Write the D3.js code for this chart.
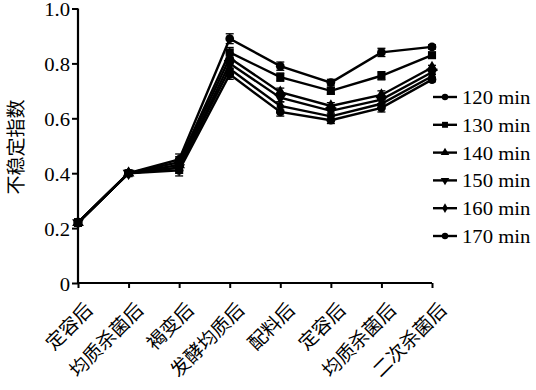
<!DOCTYPE html>
<html>
<head>
<meta charset="utf-8">
<script src="https://cdn.jsdelivr.net/npm/d3@7"></script>
<style>
  body { margin: 0; background: #fff; }
  svg { display: block; }
  .serif { font-family: "Liberation Serif", "Times New Roman", Tinos, "DejaVu Serif", serif; }
  .cjk { font-family: "Noto Sans CJK SC", sans-serif; }
</style>
</head>
<body>
<div id="chart"></div>
<script>
// data
var steps = ["定容后", "均质杀菌后", "褐变后", "发酵均质后", "配料后", "定容后", "均质杀菌后", "二次杀菌后"];
var seriesNames = ["120 min", "130 min", "140 min", "150 min", "160 min", "170 min"];
var markers = ["circle", "square", "triangle", "triangleDown", "diamond", "circle"];
var v120 = [0.22, 0.40, 0.45, 0.89, 0.79, 0.73, 0.84, 0.86];
var v130 = [0.22, 0.40, 0.44, 0.84, 0.75, 0.70, 0.755, 0.83];
var v140 = [0.22, 0.40, 0.43, 0.82, 0.695, 0.645, 0.685, 0.785];
var v150 = [0.22, 0.40, 0.42, 0.80, 0.675, 0.627, 0.668, 0.768];
var v160 = [0.22, 0.40, 0.42, 0.78, 0.645, 0.607, 0.653, 0.753];
var v170 = [0.22, 0.40, 0.41, 0.76, 0.623, 0.593, 0.638, 0.741];
var err = [0.012, 0.005, 0.02, 0.018, 0.015, 0.012, 0.015, 0.008];
var yTicks = [0, 0.2, 0.4, 0.6, 0.8, 1.0];
var allValues = [v120, v130, v140, v150, v160, v170];

var W = 536, H = 390;
var svg = d3.select("#chart").append("svg")
  .attr("width", W)
  .attr("height", H);

// scales
var x = d3.scalePoint().domain(d3.range(steps.length)).range([78, 432]);
var y = d3.scaleLinear().domain([0, 1]).range([283, 8.5]);

// y axis
var yAxis = svg.append("g")
  .attr("transform", "translate(78,0)")
  .call(d3.axisLeft(y).tickValues(yTicks).tickSize(6).tickPadding(6)
    .tickFormat(function(d){ return d == 0 ? "0" : d3.format(".1f")(d); }));
yAxis.attr("font-family", null).attr("font-size", null);
yAxis.select(".domain").attr("stroke-width", 2.2).attr("d", "M0,283V8.5");
yAxis.selectAll(".tick line").attr("stroke-width", 2);
yAxis.selectAll("text")
  .attr("class", "serif")
  .attr("x", 0)
  .attr("dy", null)
  .attr("dominant-baseline", "central")
  .attr("transform", "translate(-8,1) scale(1.15,1)")
  .style("font-size", "18px")
  .attr("fill", "#000");

// x axis
var xAxis = svg.append("g")
  .attr("transform", "translate(0,283)")
  .call(d3.axisBottom(x).tickSize(5).tickFormat(""));
xAxis.select(".domain").attr("stroke-width", 2.2).attr("d", "M78,0H432");
xAxis.selectAll(".tick line").attr("stroke-width", 2);

// rotated category labels
svg.append("g").selectAll("text")
  .data(steps)
  .enter().append("text")
  .attr("class", "cjk")
  .attr("transform", function(d, i){ return "translate(" + (x(i) + 10) + ",305) rotate(-45)"; })
  .attr("text-anchor", "end")
  .attr("dominant-baseline", "central")
  .style("font-size", "19px")
  .attr("fill", "#000")
  .text(function(d){ return d; });

// y title
svg.append("text")
  .attr("class", "cjk")
  .attr("transform", "translate(14,147) rotate(-90)")
  .attr("text-anchor", "middle")
  .attr("dominant-baseline", "central")
  .style("font-size", "19px")
  .attr("fill", "#000")
  .text("不稳定指数");

var symbolFor = function(m, size){
  if (m == "circle") return d3.symbol().type(d3.symbolCircle).size(size)();
  if (m == "square") return d3.symbol().type(d3.symbolSquare).size(size * 1.1)();
  if (m == "diamond") return d3.symbol().type(d3.symbolDiamond).size(size * 0.85)();
  return d3.symbol().type(d3.symbolTriangle).size(size)();
};

var line = d3.line()
  .x(function(d, i){ return x(i); })
  .y(function(d){ return y(d); });

var plot = svg.append("g");

allValues.forEach(function(vals, s){
  // error bars
  vals.forEach(function(v, i){
    var e = err[i];
    var g = plot.append("g").attr("stroke", "#000").attr("stroke-width", 1.3);
    g.append("line").attr("x1", x(i)).attr("x2", x(i)).attr("y1", y(v - e)).attr("y2", y(v + e));
    g.append("line").attr("x1", x(i) - 4).attr("x2", x(i) + 4).attr("y1", y(v - e)).attr("y2", y(v - e));
    g.append("line").attr("x1", x(i) - 4).attr("x2", x(i) + 4).attr("y1", y(v + e)).attr("y2", y(v + e));
  });
  plot.append("path")
    .datum(vals)
    .attr("d", line)
    .attr("fill", "none")
    .attr("stroke", "#000")
    .attr("stroke-width", 2.4);
  plot.selectAll(".m" + s)
    .data(vals)
    .enter().append("path")
    .attr("d", symbolFor(markers[s], 60))
    .attr("transform", function(d, i){
      return "translate(" + x(i) + "," + y(d) + ")" + (markers[s] == "triangleDown" ? " rotate(180)" : "");
    })
    .attr("fill", "#000");
});

// legend
var legend = svg.append("g");
seriesNames.forEach(function(name, s){
  var ly = 97 + s * 27.8;
  legend.append("line")
    .attr("x1", 433).attr("x2", 457)
    .attr("y1", ly).attr("y2", ly)
    .attr("stroke", "#000").attr("stroke-width", 2.4);
  legend.append("path")
    .attr("d", symbolFor(markers[s], 32))
    .attr("transform", "translate(445," + ly + ")" + (markers[s] == "triangleDown" ? " rotate(180)" : ""))
    .attr("fill", "#000");
  legend.append("text")
    .attr("class", "serif")
    .attr("transform", "translate(462," + (ly + 1) + ") scale(1.15,1)")
    .attr("dominant-baseline", "central")
    .style("font-size", "18px")
    .attr("fill", "#000")
    .text(name);
});
</script>
</body>
</html>
